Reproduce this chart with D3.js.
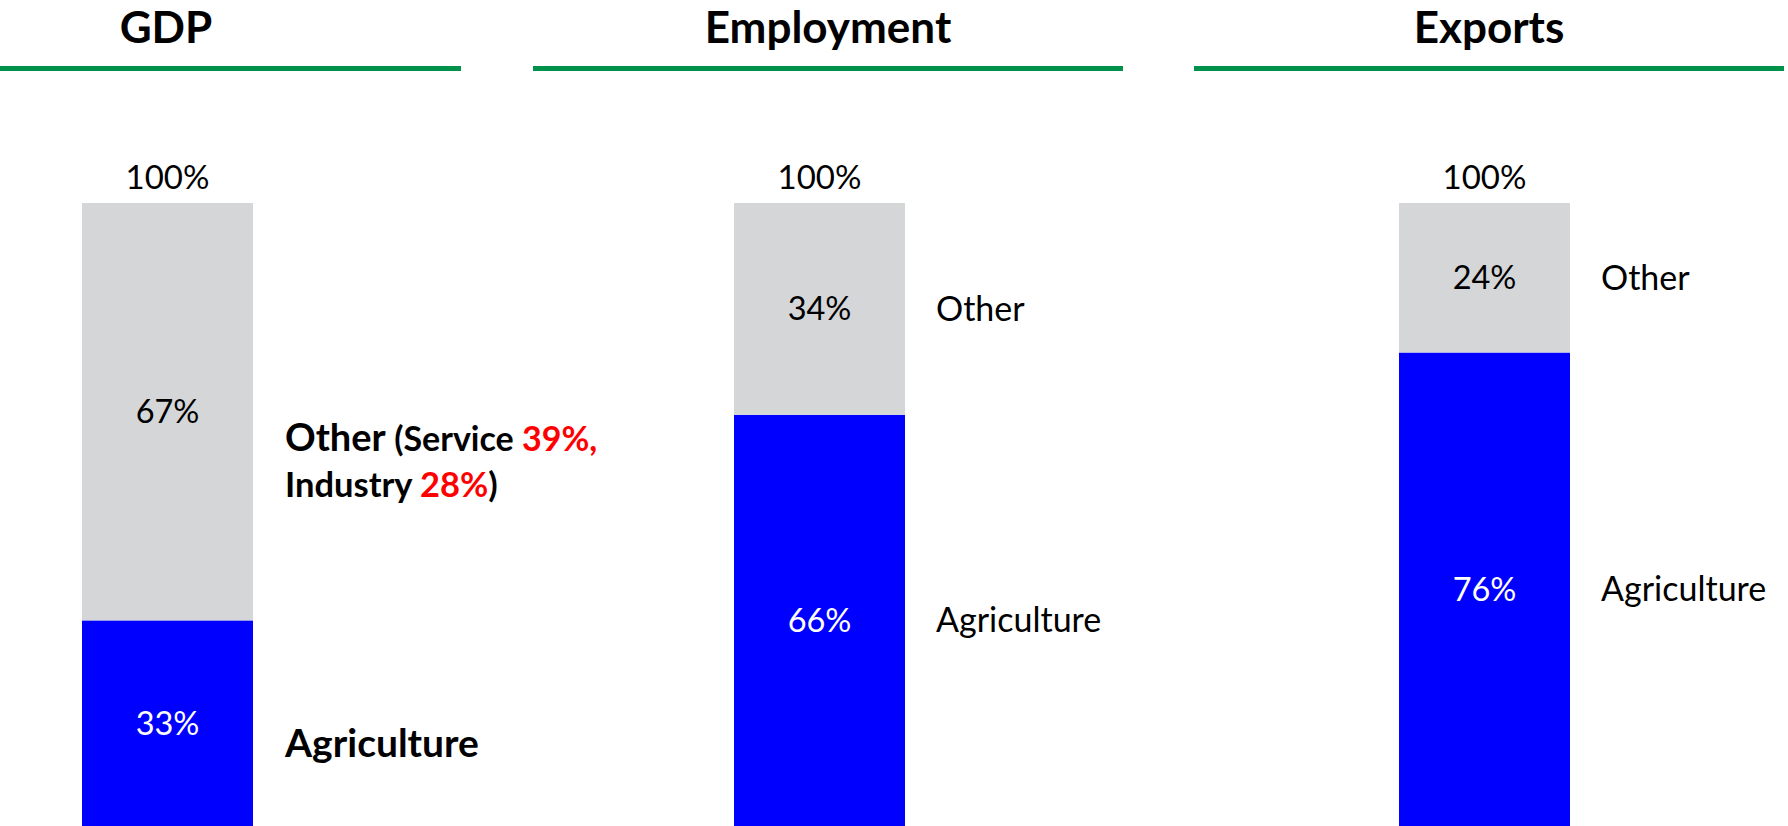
<!DOCTYPE html>
<html>
<head>
<meta charset="utf-8">
<script src="https://cdn.jsdelivr.net/npm/d3@7"></script>
<style>
  html, body { margin: 0; padding: 0; background: #fff; overflow: hidden; }
  svg { display: block; font-family: Lato, "Noto Sans", sans-serif; }
</style>
</head>
<body>
<svg id="chart" width="1788" height="826"></svg>
<script>
// ---- data ----
const panels = ["GDP", "Employment", "Exports"];
const agricultureShare = [0.33, 0.66, 0.76];
const otherShare = [0.67, 0.34, 0.24];
const segments = ["Agriculture", "Other"];
const totalLabel = "100%";
const gdpOtherBreakdown = [["Service", 0.39], ["Industry", 0.28]];

// ---- layout/style ----
const W = 1788, H = 826;
const colors = { Agriculture: "#0000FF", Other: "#D5D6D8" };
const textColors = { Agriculture: "#FFFFFF", Other: "#000000" };
const green = "#00914A";
const fmt = d3.format(".0%");

const svg = d3.select("#chart");

const rows = panels.map((p, i) => ({ panel: p, Agriculture: agricultureShare[i], Other: otherShare[i] }));
const stacked = d3.stack().keys(segments)(rows);

const xTitle = d3.scaleOrdinal().domain(panels).range([166, 828, 1489]);
const x = d3.scaleOrdinal().domain(panels).range([167.5, 819.5, 1484.5]);
const y = d3.scaleLinear().domain([0, 1]).range([H, 203]);
const barW = 171;
const lineHalf = 295;

// titles + green rules
const head = svg.append("g").selectAll("g").data(panels).join("g");
head.append("text")
  .attr("x", d => xTitle(d)).attr("y", 43)
  .attr("text-anchor", "middle")
  .attr("font-weight", 700).attr("font-size", 44)
  .text(d => d);
head.append("rect")
  .attr("x", d => xTitle(d) - lineHalf).attr("y", 66)
  .attr("width", lineHalf * 2).attr("height", 5)
  .attr("fill", green);

// bars
const layer = svg.append("g").selectAll("g").data(stacked).join("g")
  .attr("fill", d => colors[d.key]);
layer.selectAll("rect").data(d => d).join("rect")
  .attr("x", d => x(d.data.panel) - barW / 2)
  .attr("y", d => y(d[1]))
  .attr("width", barW)
  .attr("height", d => y(d[0]) - y(d[1]));

// value labels in segments
stacked.forEach(s => {
  svg.append("g").selectAll("text").data(s).join("text")
    .attr("x", d => x(d.data.panel))
    .attr("y", d => y((d[0] + d[1]) / 2))
    .attr("dy", "0.35em")
    .attr("text-anchor", "middle")
    .attr("font-size", 32.5)
    .attr("fill", textColors[s.key])
    .text(d => fmt(d[1] - d[0]));
});

// 100% totals
svg.append("g").selectAll("text").data(rows).join("text")
  .attr("x", d => x(d.panel))
  .attr("y", y(1) - 14)
  .attr("text-anchor", "middle")
  .attr("font-size", 33)
  .text(totalLabel);

// side labels for Employment / Exports
stacked.forEach(s => {
  svg.append("g").selectAll("text").data(s.filter(d => d.data.panel !== "GDP")).join("text")
    .attr("x", d => x(d.data.panel) + barW / 2 + 31)
    .attr("y", d => y((d[0] + d[1]) / 2))
    .attr("dy", "0.35em")
    .attr("font-size", 34)
    .text(s.key);
});

// GDP side labels (bold, with breakdown)
const gx = x("GDP") + barW / 2 + 32;
const gdpRow = stacked[1][0];
const midOther = y((gdpRow[0] + gdpRow[1]) / 2);
const t1 = svg.append("text").attr("x", gx).attr("y", midOther + 39)
  .attr("font-weight", 700);
t1.append("tspan").attr("font-size", 38).text("Other ");
t1.append("tspan").attr("font-size", 34).text("(" + gdpOtherBreakdown[0][0] + " ");
t1.append("tspan").attr("font-size", 34).attr("fill", "#FF0000").text(fmt(gdpOtherBreakdown[0][1]) + ",");
const t2 = svg.append("text").attr("x", gx).attr("y", midOther + 85)
  .attr("font-weight", 700).attr("font-size", 34.5);
t2.append("tspan").text(gdpOtherBreakdown[1][0] + " ");
t2.append("tspan").attr("fill", "#FF0000").text(fmt(gdpOtherBreakdown[1][1]));
t2.append("tspan").text(")");

const gdpAg = stacked[0][0];
svg.append("text").attr("x", gx)
  .attr("y", y((gdpAg[0] + gdpAg[1]) / 2) + 34)
  .attr("font-weight", 700).attr("font-size", 39)
  .text(segments[0]);
</script>
</body>
</html>
